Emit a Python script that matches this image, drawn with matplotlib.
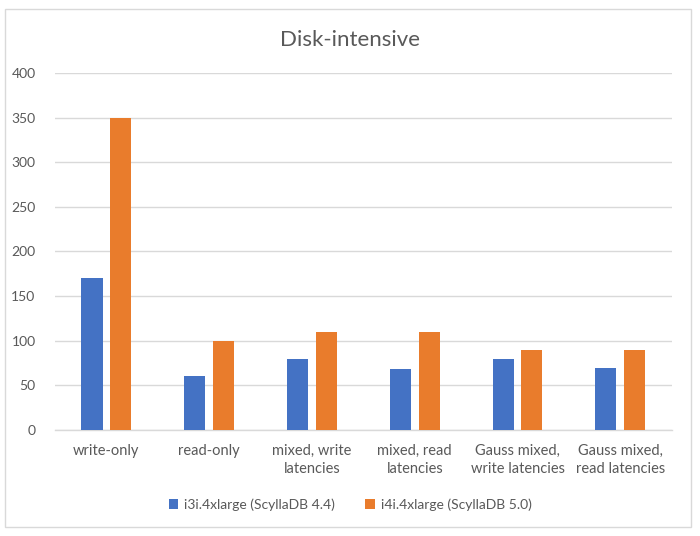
import matplotlib
matplotlib.use("Agg")

import matplotlib.pyplot as plt
import numpy as np
from matplotlib.patches import Rectangle

# data
categories = ["write-only", "read-only", "mixed, write\nlatencies",
              "mixed, read\nlatencies", "Gauss mixed,\nwrite latencies",
              "Gauss mixed,\nread latencies"]
i3i_values = [170, 60, 80, 68, 80, 70]
i4i_values = [350, 100, 110, 110, 90, 90]
series_names = ["i3i.4xlarge (ScyllaDB 4.4)", "i4i.4xlarge (ScyllaDB 5.0)"]
yticks = [0, 50, 100, 150, 200, 250, 300, 350, 400]

plt.rcParams["font.family"] = ["Lato", "DejaVu Sans"]
txt = "#595959"

fig = plt.figure(figsize=(7, 5.36), dpi=100, facecolor="white")
ax = fig.add_axes([0.0786, 0.1978, 0.881, 0.666])

x = np.arange(len(categories))
w = 0.205
off = 0.14
ax.bar(x - off, i3i_values, w, color="#4472C4", label=series_names[0], zorder=3)
ax.bar(x + off, i4i_values, w, color="#E97C2C", label=series_names[1], zorder=3)

ax.set_xlim(-0.5, len(categories) - 0.5)
ax.set_ylim(0, 400)
ax.set_yticks(yticks)
ax.set_yticklabels([str(v) for v in yticks], fontsize=10, color=txt)
ax.set_xticks(x)
ax.set_xticklabels(categories, fontsize=10.5, color=txt, linespacing=1.4)
ax.tick_params(axis="both", length=0)
ax.tick_params(axis="y", pad=14)
ax.tick_params(axis="x", pad=10)

ax.grid(axis="y", color="#D9D9D9", linewidth=1.0, zorder=0)
for sp in ["top", "right", "left"]:
    ax.spines[sp].set_visible(False)
ax.spines["bottom"].set_color("#D9D9D9")
ax.spines["bottom"].set_linewidth(1.0)

fig.text(0.5, 0.925, "Disk-intensive", ha="center", va="center",
         fontsize=16, color=txt)

fig.legend(loc="center", bbox_to_anchor=(0.5, 0.058), ncol=2, frameon=False,
           fontsize=10, labelcolor=txt, handlelength=0.7, handleheight=0.7,
           handletextpad=0.4, columnspacing=2.2)

# outer chart border
fig.add_artist(Rectangle((0.007, 0.017), 0.98, 0.966, transform=fig.transFigure,
                         fill=False, edgecolor="#D9D9D9", linewidth=1.0))

fig.savefig("out.png", dpi=100, facecolor="white")
plt.close()
